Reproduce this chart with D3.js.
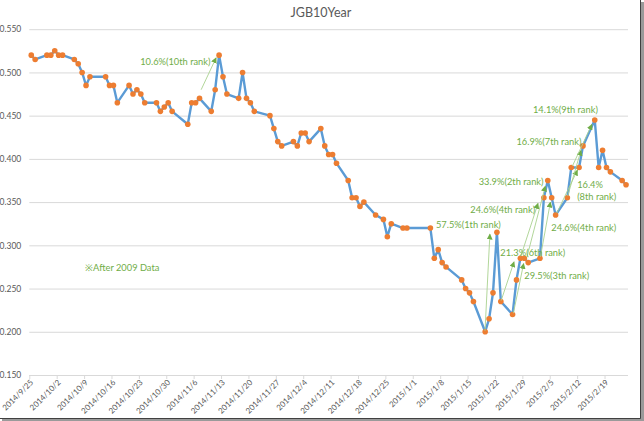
<!DOCTYPE html>
<html><head><meta charset="utf-8">
<script src="https://cdn.jsdelivr.net/npm/d3@7"></script>
<style>
html,body{margin:0;padding:0;background:#fff;}
svg{display:block;}
text{font-family:Lato,"Open Sans",sans-serif;}
</style></head>
<body><svg id="chart" width="644" height="421"></svg>
<script>
// ---- data ----
const dates = ["2014-09-25","2014-09-26","2014-09-29","2014-09-30","2014-10-01","2014-10-02","2014-10-03","2014-10-06","2014-10-07","2014-10-08","2014-10-09","2014-10-10","2014-10-14","2014-10-15","2014-10-16","2014-10-17","2014-10-20","2014-10-21","2014-10-22","2014-10-23","2014-10-24","2014-10-27","2014-10-28","2014-10-29","2014-10-30","2014-10-31","2014-11-04","2014-11-05","2014-11-06","2014-11-07","2014-11-10","2014-11-11","2014-11-12","2014-11-13","2014-11-14","2014-11-17","2014-11-18","2014-11-19","2014-11-20","2014-11-21","2014-11-25","2014-11-26","2014-11-27","2014-11-28","2014-12-01","2014-12-02","2014-12-03","2014-12-04","2014-12-05","2014-12-08","2014-12-09","2014-12-10","2014-12-11","2014-12-12","2014-12-15","2014-12-16","2014-12-17","2014-12-18","2014-12-19","2014-12-22","2014-12-24","2014-12-25","2014-12-26","2014-12-29","2014-12-30","2015-01-05","2015-01-06","2015-01-07","2015-01-08","2015-01-09","2015-01-13","2015-01-14","2015-01-15","2015-01-16","2015-01-19","2015-01-20","2015-01-21","2015-01-22","2015-01-23","2015-01-26","2015-01-27","2015-01-28","2015-01-29","2015-01-30","2015-02-02","2015-02-03","2015-02-04","2015-02-05","2015-02-06","2015-02-09","2015-02-10","2015-02-12","2015-02-13","2015-02-16","2015-02-17","2015-02-18","2015-02-19","2015-02-20","2015-02-23","2015-02-24"];
const yields = [0.520,0.515,0.520,0.520,0.525,0.520,0.520,0.515,0.510,0.500,0.485,0.495,0.495,0.485,0.485,0.465,0.485,0.475,0.480,0.475,0.465,0.465,0.455,0.460,0.465,0.455,0.440,0.465,0.465,0.470,0.455,0.480,0.520,0.495,0.475,0.470,0.500,0.470,0.465,0.455,0.450,0.435,0.420,0.415,0.420,0.415,0.430,0.430,0.420,0.435,0.415,0.405,0.405,0.395,0.375,0.355,0.355,0.345,0.350,0.335,0.330,0.310,0.325,0.320,0.320,0.320,0.285,0.295,0.280,0.275,0.260,0.250,0.245,0.235,0.200,0.215,0.245,0.315,0.235,0.220,0.260,0.285,0.285,0.280,0.285,0.355,0.375,0.355,0.335,0.355,0.390,0.390,0.415,0.445,0.390,0.410,0.390,0.385,0.375,0.370];
const xTickLabels = ["2014/9/25","2014/10/2","2014/10/9","2014/10/16","2014/10/23","2014/10/30","2014/11/6","2014/11/13","2014/11/20","2014/11/27","2014/12/4","2014/12/11","2014/12/18","2014/12/25","2015/1/1","2015/1/8","2015/1/15","2015/1/22","2015/1/29","2015/2/5","2015/2/12","2015/2/19"];
const yTicks = [0.150,0.200,0.250,0.300,0.350,0.400,0.450,0.500,0.550];
const xDomain = ["2014-09-25T00","2015-02-25T00"];
const titleText = "JGB10Year";

// annotations (data coordinates)
const annTexts = ["10.6%(10th rank)","57.5%(1th rank)","21.3%(6th rank)","29.5%(3th rank)","24.6%(4th rank)","33.9%(2th rank)","24.6%(4th rank)","16.4%|(8th rank)","16.9%(7th rank)","14.1%(9th rank)","※After 2009 Data"];
const annTextDate = ["2014-10-23T08","2015-01-06T22","2015-01-23T09","2015-01-29T12","2015-01-15T17","2015-01-17T20","2015-02-05T10","2015-02-12T00","2015-01-27T12","2015-01-31T17","2014-10-09T06"];
const annTextVal = [0.5135,0.3245,0.2918,0.2655,0.3416,0.3743,0.3207,0.3708,0.421,0.4576,0.2751];
const arrowFromDate = ["2014-11-07T22","2015-01-19T11","2015-01-23T14","2015-01-26T17","2015-01-28T15","2015-01-30T04","2015-02-02T15","2015-02-06T19","2015-02-09T14","2015-02-10T19"];
const arrowFromVal = [0.480,0.201,0.236,0.2215,0.2875,0.2863,0.2867,0.3373,0.357,0.3917];
const arrowToDate = ["2014-11-11T18","2015-01-20T17","2015-01-26T21","2015-01-29T08","2015-02-02T00","2015-02-03T21","2015-02-05T04","2015-02-12T02","2015-02-13T00","2015-02-15T19"];
const arrowToVal = [0.517,0.313,0.281,0.279,0.3485,0.3685,0.350,0.387,0.410,0.440];

// ---- drawing ----
const svg = d3.select("#chart");
const W = 644, H = 421;
const parseD = d3.utcParse("%Y-%m-%d");
const parseDH = d3.utcParse("%Y-%m-%dT%H");
const pL = 29.3, pR = 628, pT = 29.2, pB = 375;

const x = d3.scaleUtc().domain(xDomain.map(parseDH)).range([pL, pR]);
const y = d3.scaleLinear().domain([0.15, 0.55]).range([pB, pT]);

const HALF = 12 * 3600 * 1000;
const pts = dates.map((d, i) => ({ t: new Date(parseD(d).getTime() + HALF), v: yields[i] }));

// frame shadow
svg.append("rect").attr("x", 0).attr("y", 0).attr("width", W).attr("height", H).attr("fill", "#fff");
svg.append("rect").attr("x", 640).attr("y", 2).attr("width", 4).attr("height", 419).attr("fill", "#9a9a9a");
svg.append("rect").attr("x", 2).attr("y", 418).attr("width", 642).attr("height", 3).attr("fill", "#9a9a9a");
svg.append("line").attr("x1", 640.5).attr("x2", 640.5).attr("y1", 0).attr("y2", 418.5).attr("stroke", "#404040");
svg.append("line").attr("x1", 0).attr("x2", 640.5).attr("y1", 418.5).attr("y2", 418.5).attr("stroke", "#404040");

// title
svg.append("text").attr("x", 321).attr("y", 17).attr("text-anchor", "middle")
  .attr("font-size", 12.5).attr("fill", "#595959").text(titleText);

// gridlines & y axis
const yAxis = d3.axisLeft(y).tickValues(yTicks).tickFormat(d3.format(".3f")).tickSize(-(pR - pL)).tickPadding(8);
const gy = svg.append("g").attr("transform", `translate(${pL},0)`).call(yAxis);
gy.select(".domain").remove();
gy.selectAll(".tick line").attr("stroke", "#d9d9d9").attr("stroke-width", 1);
gy.selectAll(".tick text").attr("font-size", 8.5).attr("fill", "#595959").attr("x", -8)
  .style("font-family", "Lato, sans-serif");

// x axis
const tickDates = xTickLabels.map(s => { const p = s.split("/"); return new Date(Date.UTC(+p[0], +p[1] - 1, +p[2])); });
const xAxis = d3.axisBottom(x).tickValues(tickDates).tickSize(4).tickFormat((d, i) => xTickLabels[i]);
const gx = svg.append("g").attr("transform", `translate(0,${pB})`).call(xAxis);
gx.select(".domain").attr("stroke", "#d9d9d9").attr("d", `M${pL},0.5H${pR}`);
gx.selectAll(".tick line").attr("stroke", "#d9d9d9");
gx.selectAll(".tick text").attr("font-size", 8).attr("fill", "#595959")
  .style("font-family", "Lato, sans-serif")
  .attr("text-anchor", "end").attr("dy", null).attr("y", 0)
  .attr("transform", "translate(4,8) rotate(-45)");

// line
const line = d3.line().x(d => x(d.t)).y(d => y(d.v));
svg.append("path").datum(pts).attr("d", line).attr("fill", "none")
  .attr("stroke", "#5b9bd5").attr("stroke-width", 2.4).attr("stroke-linejoin", "round");

// markers
svg.append("g").selectAll("circle").data(pts).join("circle")
  .attr("cx", d => x(d.t)).attr("cy", d => y(d.v)).attr("r", 2.8).attr("fill", "#ed7d31");

// arrows
const defs = svg.append("defs");
defs.append("marker").attr("id", "ah").attr("viewBox", "0 0 10 10").attr("refX", 9).attr("refY", 5)
  .attr("markerWidth", 6).attr("markerHeight", 6).attr("markerUnits", "userSpaceOnUse").attr("orient", "auto")
  .append("path").attr("d", "M0,0L10,5L0,10Z").attr("fill", "#70ad47");
const arrows = arrowFromDate.map((d, i) => ({
  x1: x(parseDH(d)), y1: y(arrowFromVal[i]), x2: x(parseDH(arrowToDate[i])), y2: y(arrowToVal[i])
}));
svg.append("g").selectAll("line").data(arrows).join("line")
  .attr("x1", d => d.x1).attr("y1", d => d.y1).attr("x2", d => d.x2).attr("y2", d => d.y2)
  .attr("stroke", "#a9d18e").attr("stroke-width", 0.9).attr("marker-end", "url(#ah)");

// annotation texts
const ann = svg.append("g");
annTexts.forEach((t, i) => {
  const lines = t.split("|");
  const tx = x(parseDH(annTextDate[i])), ty = y(annTextVal[i]);
  const te = ann.append("text").attr("x", tx).attr("y", ty).attr("font-size", 9.3)
    .attr("fill", "#70ad47").attr("dominant-baseline", "central");
  lines.forEach((l, j) => te.append("tspan").attr("x", tx).attr("dy", j === 0 ? 0 : 12).text(l));
});
</script></body></html>
